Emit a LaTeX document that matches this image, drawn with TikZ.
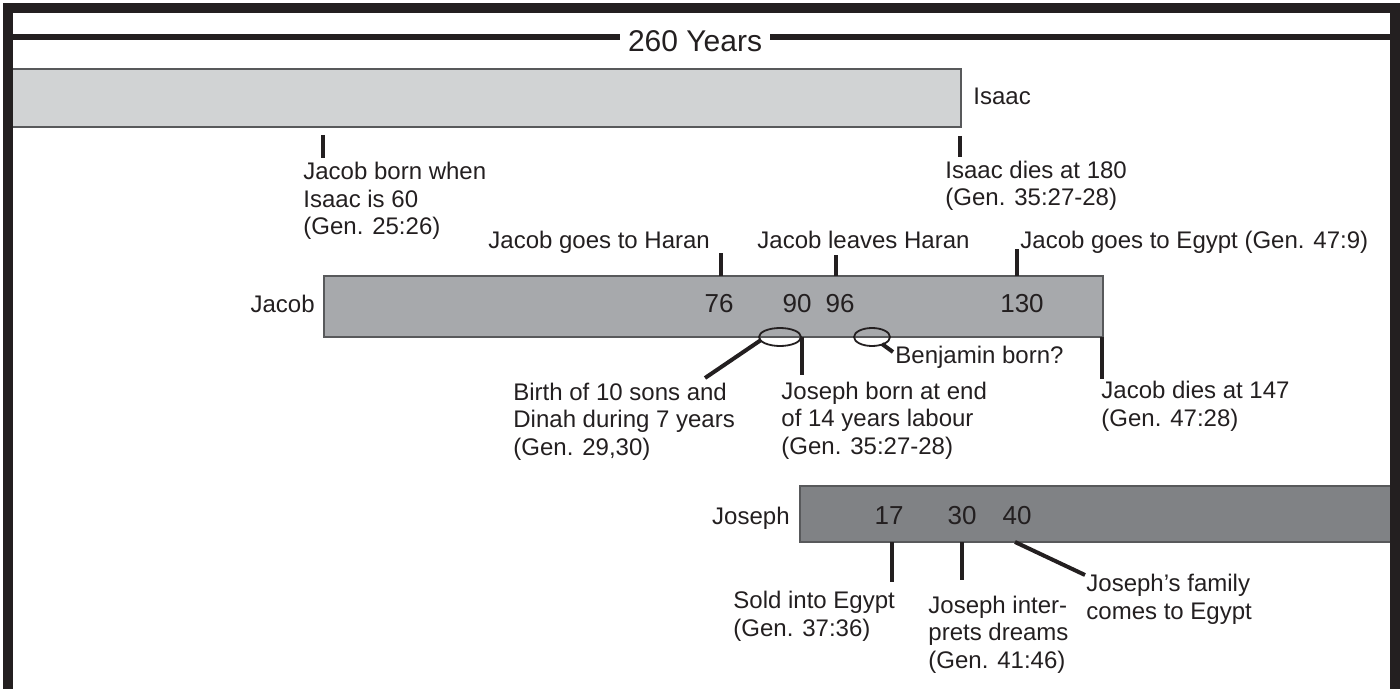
\documentclass[tikz,border=0pt]{standalone}
\usepackage{fontspec}
\setmainfont{Liberation Sans}
\usetikzlibrary{shapes.geometric}
\definecolor{ink}{HTML}{231F20}
\definecolor{isaacfill}{HTML}{D1D3D4}
\definecolor{jacobfill}{HTML}{A7A9AC}
\definecolor{josephfill}{HTML}{808285}
\definecolor{barline}{HTML}{58595B}
\newcommand{\lblfont}{\fontsize{12}{13.75}\selectfont}
\newcommand{\numfont}{\fontsize{13}{15}\selectfont}
\newcommand{\bigfont}{\fontsize{15}{18}\selectfont}
\tikzset{
  lbl/.style={font=\lblfont, text=ink, inner sep=0pt, anchor=base west, align=left},
  num/.style={font=\numfont, text=ink, inner sep=0pt, anchor=base},
  bar/.style={draw=barline, line width=1.2},
  tickline/.style={draw=ink, line width=2.4},
  ring/.style={draw=ink, line width=0.9},
  frame/.style={draw=ink, line width=5},
}
\begin{document}
\begin{tikzpicture}[x=0.5pt,y=-0.5pt]
\useasboundingbox (0,0) rectangle (1400,689);
% bars
\fill[isaacfill] (4,69) rectangle (961,127);
\draw[bar] (4,69) -- (961,69) -- (961,127) -- (4,127);
\draw[bar, fill=jacobfill] (324,276) rectangle (1103,337);
\fill[josephfill] (800,486) rectangle (1400,542);
\draw[bar] (1400,486) -- (800,486) -- (800,542) -- (1400,542);
% frame
\draw[frame] (7.5,689) -- (7.5,8.5) -- (1394.5,8.5) -- (1394.5,689);
% title
\node[font=\bigfont, text=ink, inner sep=0pt, anchor=base] (title) at (695,52) {260 Years};
\coordinate (tl) at (7.5,37);
\coordinate (tr) at (1394.5,37);
\draw[draw=ink, line width=3] (tl) -- ([xshift=-4]title.west |- tl);
\draw[draw=ink, line width=3] ([xshift=4]title.east |- tr) -- (tr);
% Isaac
\node[lbl] (isaac) at (973,105) {Isaac};
\node[lbl] (jborn) at (303,235) {Jacob born when\\Isaac is 60\\(Gen. 25:26)};
\node[lbl] (idies) at (945,206) {Isaac dies at 180\\(Gen. 35:27-28)};
\coordinate (jb1) at (323,135); \coordinate (jb2) at (323,158);
\draw[tickline] (jb1) -- (jb2);
\coordinate (id1) at (960,136); \coordinate (id2) at (960,157);
\draw[tickline] (id1) -- (id2);
% Jacob
\node[lbl, anchor=base east] (jacob) at (315,313) {Jacob};
\node[lbl] (haran) at (488,249) {Jacob goes to Haran};
\node[lbl] (leaves) at (757,249) {Jacob leaves Haran};
\node[lbl] (egypt) at (1020,249) {Jacob goes to Egypt (Gen. 47:9)};
\node[num] (n76) at (719,313) {76};
\node[num] (n90) at (797,313) {90};
\node[num] (n96) at (840,313) {96};
\node[num] (n130) at (1022,313) {130};
\coordinate (t76a) at (721,276); \coordinate (t76b) at (721,253);
\coordinate (t96a) at (836,276); \coordinate (t96b) at (836,255);
\coordinate (t130a) at (1017,276); \coordinate (t130b) at (1017,249);
\draw[tickline] (t76a) -- (t76b);
\draw[tickline] (t96a) -- (t96b);
\draw[tickline] (t130a) -- (t130b);
\node[ring, ellipse, minimum width=21pt, minimum height=9pt, inner sep=0pt] (e1) at (780,337) {};
\node[ring, ellipse, minimum width=18pt, minimum height=9pt, inner sep=0pt] (e2) at (872,337) {};
\node[lbl] (births) at (513,455) {Birth of 10 sons and\\Dinah during 7 years\\(Gen. 29,30)};
\node[lbl] (jsborn) at (781,454) {Joseph born at end\\of 14 years labour\\(Gen. 35:27-28)};
\node[lbl] (benj) at (895,363) {Benjamin born?};
\node[lbl] (jdies) at (1101,426) {Jacob dies at 147\\(Gen. 47:28)};
\coordinate (bl1) at (761,340); \coordinate (bl2) at (705,378);
\draw[draw=ink, line width=2] (bl1) -- (bl2);
\coordinate (bj1) at (882,344); \coordinate (bj2) at (893,352);
\draw[draw=ink, line width=2] (bj1) -- (bj2);
\coordinate (jo1) at (802,337); \coordinate (jo2) at (802,375);
\draw[tickline] (jo1) -- (jo2);
\coordinate (jd1) at (1102,337); \coordinate (jd2) at (1102,379);
\draw[tickline] (jd1) -- (jd2);
% Joseph
\node[lbl, anchor=base east] (joseph) at (790,524) {Joseph};
\node[num] (n17) at (889,524) {17};
\node[num] (n30) at (962,524) {30};
\node[num] (n40) at (1017,524) {40};
\coordinate (s1) at (892,542); \coordinate (s2) at (892,582);
\draw[tickline] (s1) -- (s2);
\coordinate (d1) at (962,542); \coordinate (d2) at (962,580);
\draw[tickline] (d1) -- (d2);
\coordinate (f1) at (1015,542); \coordinate (f2) at (1085,575);
\draw[draw=ink, line width=2] (f1) -- (f2);
\node[lbl] (sold) at (733,636) {Sold into Egypt\\(Gen. 37:36)};
\node[lbl] (dreams) at (928,668) {Joseph inter-\\prets dreams\\(Gen. 41:46)};
\node[lbl] (family) at (1086,619) {Joseph’s family\\comes to Egypt};
\end{tikzpicture}
\end{document}
